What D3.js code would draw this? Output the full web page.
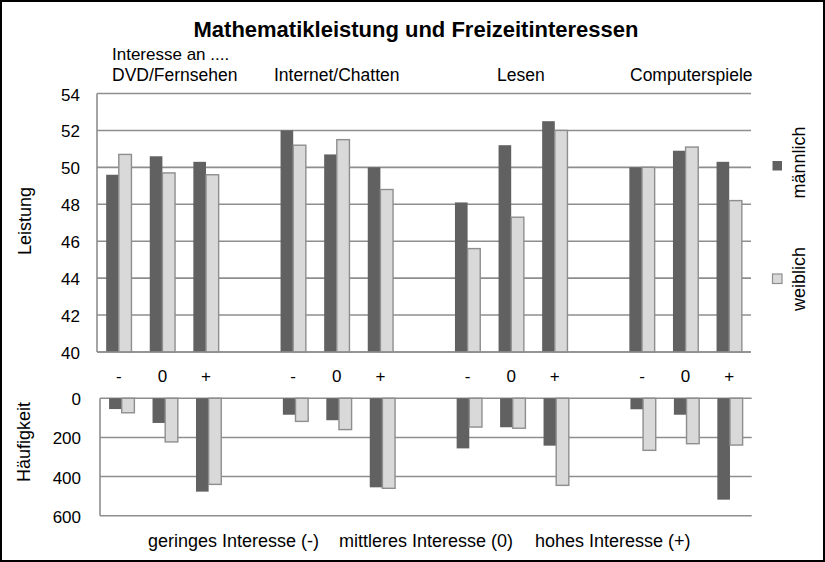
<!DOCTYPE html>
<html>
<head>
<meta charset="utf-8">
<script src="https://cdn.jsdelivr.net/npm/d3@7"></script>
<style>
  body { margin: 0; background: #fff; }
  svg { display: block; font-family: "Liberation Sans", Arial, sans-serif; }
</style>
</head>
<body>
<div id="chart"></div>
<script>
const interests = ["DVD/Fernsehen", "Internet/Chatten", "Lesen", "Computerspiele"];
const levels = ["-", "0", "+"];
const levelTexts = ["geringes Interesse (-)", "mittleres Interesse (0)", "hohes Interesse (+)"];
const seriesNames = ["männlich", "weiblich"];

// Leistung, order: interest x level
const leistungM = [49.6, 50.6, 50.3, 52.0, 50.7, 50.0, 48.1, 51.2, 52.5, 50.0, 50.9, 50.3];
const leistungW = [50.7, 49.7, 49.6, 51.2, 51.5, 48.8, 45.6, 47.3, 52.0, 50.0, 51.1, 48.2];
// Häufigkeit
const haeufigM = [55, 126, 477, 84, 112, 455, 256, 148, 242, 56, 84, 518];
const haeufigW = [74, 223, 440, 118, 160, 460, 147, 153, 445, 266, 232, 239];

const leistungTicks = [40, 42, 44, 46, 48, 50, 52, 54];
const haeufigTicks = [0, 200, 400, 600];

const width = 825;
const height = 562;
const colors = { m: '#616161', w: '#d9d9d9' };
const gridColor = '#8e8e8e';

// 15 slots: 3 levels per interest, one empty slot between interests
const slots = [];
const rows = [];
interests.forEach((it, i) => {
  levels.forEach((lv, j) => {
    const k = i * 3 + j;
    slots.push(it + '|' + lv);
    rows.push({ key: it + '|' + lv, level: lv, lm: leistungM[k], lw: leistungW[k], hm: haeufigM[k], hw: haeufigW[k] });
  });
  if (i < interests.length - 1) slots.push('gap' + i);
});

const svg = d3.select('#chart')
  .append('svg')
  .attr('width', width)
  .attr('height', height)
  .attr('viewBox', `0 0 ${width} ${height}`);

svg.append('rect')
  .attr('x', 1).attr('y', 1)
  .attr('width', width - 2).attr('height', 560)
  .attr('fill', '#fff')
  .attr('stroke', '#000')
  .attr('stroke-width', 2);

svg.append('text')
  .attr('x', 416).attr('y', 37)
  .attr('text-anchor', 'middle')
  .attr('font-size', 22)
  .attr('font-weight', 'bold')
  .text('Mathematikleistung und Freizeitinteressen');

// ---------- top chart: Leistung ----------
const xTop = d3.scaleBand().domain(slots).range([97, 751]);
const yTop = d3.scaleLinear().domain([40, 54]).range([352, 93.5]);
const barW = xTop.bandwidth() * 0.29;

const gTop = svg.append('g');
gTop.selectAll('.gridTop')
  .data(leistungTicks)
  .enter().append('line')
  .attr('x1', 97).attr('x2', 751)
  .attr('y1', d => yTop(d)).attr('y2', d => yTop(d))
  .attr('stroke', gridColor).attr('stroke-width', 1.6);
gTop.append('line')
  .attr('x1', 97).attr('x2', 97)
  .attr('y1', yTop(40)).attr('y2', yTop(54))
  .attr('stroke', gridColor).attr('stroke-width', 1.6);

gTop.selectAll('.tickTop')
  .data(leistungTicks)
  .enter().append('text')
  .attr('x', 80).attr('y', d => yTop(d) + 7)
  .attr('text-anchor', 'end')
  .attr('font-size', 17)
  .text(d => d);

gTop.selectAll('.barM')
  .data(rows)
  .enter().append('rect')
  .attr('x', d => xTop(d.key) + xTop.bandwidth() / 2 - barW)
  .attr('y', d => yTop(d.lm))
  .attr('width', barW)
  .attr('height', d => yTop(40) - yTop(d.lm))
  .attr('fill', colors.m);

gTop.selectAll('.barW')
  .data(rows)
  .enter().append('rect')
  .attr('x', d => xTop(d.key) + xTop.bandwidth() / 2)
  .attr('y', d => yTop(d.lw))
  .attr('width', barW)
  .attr('height', d => yTop(40) - yTop(d.lw))
  .attr('fill', colors.w)
  .attr('stroke', gridColor)
  .attr('stroke-width', 1.4);

gTop.append('line')
  .attr('x1', 97).attr('x2', 751)
  .attr('y1', yTop(40)).attr('y2', yTop(40))
  .attr('stroke', gridColor).attr('stroke-width', 1.6);

// level labels between the charts
gTop.selectAll('.levelText')
  .data(rows)
  .enter().append('text')
  .attr('x', d => xTop(d.key) + xTop.bandwidth() / 2)
  .attr('y', 382)
  .attr('text-anchor', 'middle')
  .attr('font-size', 17)
  .text(d => d.level);

// headers
svg.append('text')
  .attr('x', 112).attr('y', 59.5)
  .attr('font-size', 17)
  .text('Interesse an ....');
const headerX = [112, 274, 497, 630];
interests.forEach((it, i) => {
  svg.append('text')
    .attr('x', headerX[i]).attr('y', 80.5)
    .attr('font-size', 17.5)
    .text(it);
});

svg.append('text')
  .attr('transform', 'translate(31,221) rotate(-90)')
  .attr('text-anchor', 'middle')
  .attr('font-size', 18)
  .text('Leistung');

// ---------- bottom chart: Häufigkeit ----------
const xBot = d3.scaleBand().domain(slots).range([100, 751.7]);
const yBot = d3.scaleLinear().domain([0, 600]).range([398.3, 515.7]);

const gBot = svg.append('g');
gBot.selectAll('.gridBot')
  .data(haeufigTicks)
  .enter().append('line')
  .attr('x1', 100).attr('x2', 751.7)
  .attr('y1', d => yBot(d)).attr('y2', d => yBot(d))
  .attr('stroke', gridColor).attr('stroke-width', 1.6);
gBot.append('line')
  .attr('x1', 100).attr('x2', 100)
  .attr('y1', yBot(0)).attr('y2', yBot(600))
  .attr('stroke', gridColor).attr('stroke-width', 1.6);

gBot.selectAll('.tickBot')
  .data(haeufigTicks)
  .enter().append('text')
  .attr('x', 81).attr('y', d => yBot(d) + 7)
  .attr('text-anchor', 'end')
  .attr('font-size', 17)
  .text(d => d);

gBot.selectAll('.barM')
  .data(rows)
  .enter().append('rect')
  .attr('x', d => xBot(d.key) + xBot.bandwidth() / 2 - barW)
  .attr('y', yBot(0))
  .attr('width', barW)
  .attr('height', d => yBot(d.hm) - yBot(0))
  .attr('fill', colors.m);

gBot.selectAll('.barW')
  .data(rows)
  .enter().append('rect')
  .attr('x', d => xBot(d.key) + xBot.bandwidth() / 2)
  .attr('y', yBot(0))
  .attr('width', barW)
  .attr('height', d => yBot(d.hw) - yBot(0))
  .attr('fill', colors.w)
  .attr('stroke', gridColor)
  .attr('stroke-width', 1.4);

svg.append('text')
  .attr('transform', 'translate(30,442) rotate(-90)')
  .attr('text-anchor', 'middle')
  .attr('font-size', 18)
  .text('Häufigkeit');

const levelTextX = [148, 339, 535];
levelTexts.forEach((t, i) => {
  svg.append('text')
    .attr('x', levelTextX[i]).attr('y', 546.5)
    .attr('font-size', 18)
    .text(t);
});

// ---------- legend ----------
const legendY = [166, 279];
seriesNames.forEach((name, i) => {
  svg.append('rect')
    .attr('x', 772.5).attr('y', legendY[i] - 5)
    .attr('width', 9.5).attr('height', 9.5)
    .attr('fill', i === 0 ? colors.m : colors.w)
    .attr('stroke', i === 0 ? 'none' : gridColor)
    .attr('stroke-width', 1.2);
  svg.append('text')
    .attr('transform', `translate(805,${i === 0 ? 162.5 : 279}) rotate(-90)`)
    .attr('text-anchor', 'middle')
    .attr('font-size', 18)
    .text(name);
});
</script>
</body>
</html>
